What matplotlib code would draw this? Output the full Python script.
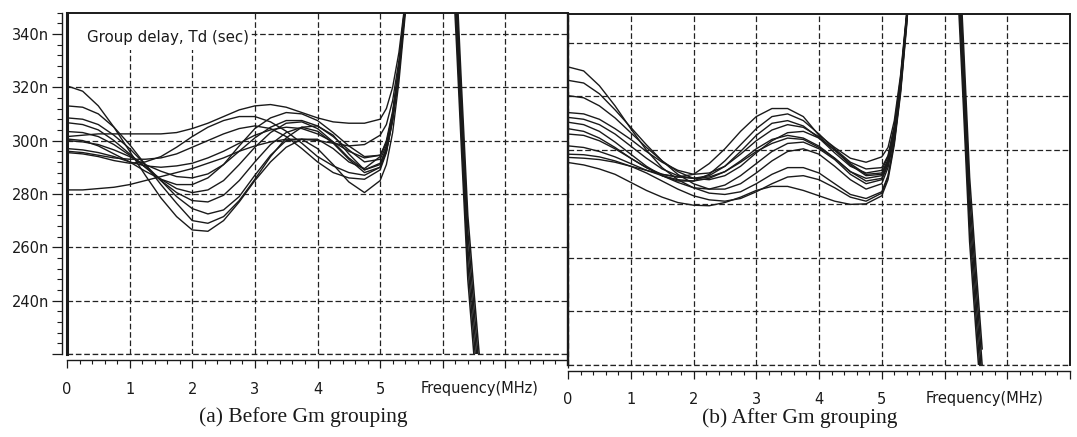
import matplotlib
matplotlib.use("Agg")
import matplotlib.pyplot as plt
from matplotlib.ticker import MultipleLocator, FixedLocator, FixedFormatter
from matplotlib.patches import Rectangle

plt.rcParams['font.family'] = ['DejaVu Sans']

# ---------------- data (group delay in ns vs frequency in MHz) ----------------
freq = [0.0, 0.25, 0.5, 0.75, 1.0, 1.25, 1.5, 1.75, 2.0, 2.25, 2.5, 2.75, 3.0,
        3.25, 3.5, 3.75, 4.0, 4.25, 4.5, 4.75, 5.0, 5.1, 5.2, 5.3, 5.4, 5.5]

# (a) Before Gm grouping
before_1 = [320.5, 318.5, 313, 305, 296, 287, 278.5, 271.5, 266.5, 266, 270, 277, 285, 292, 297.5, 300.5, 300.5, 297, 292, 289.5, 294, 300, 311, 328, 352, 385]
before_2 = [313, 312.5, 310, 305, 298.5, 291, 283.5, 276.5, 270, 269, 271.5, 277.5, 285.5, 294, 301, 305, 305.5, 302, 295, 289, 291, 297, 309, 326, 350, 383]
before_3 = [308.5, 308, 306, 302, 297, 291, 285, 279, 274.5, 272.5, 274, 279, 287, 294.5, 300, 300.5, 297, 291, 284.5, 280.5, 285, 291, 303, 322, 347, 380]
before_4 = [306.7, 306, 304, 300, 295, 290, 285, 280.5, 277.5, 277, 279.5, 285, 292, 298.5, 303, 305, 303.5, 299, 293, 288, 290, 296, 308, 325, 349, 382]
before_5 = [303.4, 303, 301.5, 298.5, 294.5, 290, 285.5, 282, 280.5, 281.5, 285, 291, 297.5, 303, 306.5, 307, 304.5, 299.5, 293.5, 289, 291.5, 297, 309, 326, 350, 383]
before_6 = [301.5, 302, 302.5, 302.5, 302.5, 302.5, 302.5, 303, 304.5, 306.5, 309, 311.5, 313, 313.5, 312.5, 310.5, 308.5, 307, 306.5, 306.5, 308, 312, 320, 333, 352, 385]
before_7 = [300.6, 300, 298, 295, 292, 288.5, 285.5, 283.5, 283.5, 286, 291, 298, 304.5, 308.5, 310.5, 310, 307.5, 303, 298, 294, 294.5, 299, 310, 327, 350, 383]
before_8 = [300, 299.5, 298.5, 296.5, 294, 291, 288.5, 286.5, 286, 287.5, 291, 296, 301, 305, 307.5, 307.5, 305.5, 301.5, 296.5, 292, 293, 298, 309, 326, 350, 383]
before_9 = [297, 296.5, 295.5, 294, 292, 290.5, 290, 290.5, 291.5, 293.5, 296, 299, 302, 304, 305, 304.5, 302.5, 299.5, 296, 293.5, 294.5, 299, 310, 327, 351, 384]
before_10 = [296, 295.5, 294.5, 293.5, 293, 293, 293.5, 295, 297.5, 300, 302.5, 304.5, 305.5, 304.5, 301.5, 297, 292, 288, 286, 285.5, 289, 295.5, 307.5, 325, 350, 383]
before_11 = [295.5, 295, 294, 292.5, 291.5, 292, 294, 297.5, 301.5, 305, 307.5, 309, 309, 307, 303.5, 299, 294, 290.5, 288, 287, 290, 296, 308, 325.5, 350, 383]
before_12 = [281.5, 281.5, 282, 282.5, 283.5, 285, 286.5, 288, 289.5, 291.5, 293.5, 296, 298, 299.5, 300.5, 300.5, 300, 299, 298, 298.5, 302, 306, 315, 330, 351, 384]

# (b) After Gm grouping
after_1 = [331, 329.5, 324, 316.5, 308, 300, 293.5, 289, 286, 284, 283.5, 284.5, 287.5, 291, 293.5, 293.5, 291.5, 287.5, 283.5, 282, 284.5, 290.5, 303.5, 322.5, 348.5, 384]
after_2 = [326, 325, 321, 315, 308.5, 302, 296, 291, 287.5, 285.5, 285.5, 287.5, 291.5, 296, 299.5, 300.5, 298.5, 294, 289, 285.5, 287.5, 293.5, 305, 324, 350, 385]
after_3 = [320.3, 319.5, 316.5, 312, 306.5, 301, 296, 292, 289.5, 289, 290.5, 294, 299, 303.5, 306.5, 307, 304.5, 300, 294.5, 290.5, 291, 296, 307, 325, 350, 385]
after_4 = [314, 313.5, 311.5, 308, 304, 299.5, 295.5, 292.5, 291, 291.5, 294, 298.5, 303.5, 307.5, 309.5, 308.5, 305, 300, 295, 291, 291.5, 296.5, 307.5, 325.5, 350, 385]
after_5 = [312.2, 311.5, 309.5, 306, 301.5, 297, 293, 290.5, 289.5, 290.5, 294, 299.5, 305.5, 310, 311, 309, 304.5, 299, 294, 291.5, 292.5, 297.5, 308.5, 326, 351, 385]
after_6 = [310.4, 309.5, 307, 303, 298.5, 294, 290.5, 288.5, 288.5, 291, 296, 302, 308, 312.5, 313.5, 311, 306, 300.5, 295.5, 293, 293.5, 298, 309, 327, 351, 385]
after_7 = [308, 307, 304.5, 301, 297, 293.5, 291, 290, 291, 295, 300.5, 307, 312.5, 315.5, 315.5, 312.5, 305.5, 301, 297, 295.5, 297.5, 301, 311, 328, 352, 386]
after_8 = [306, 305.5, 303.5, 300.5, 297, 293.5, 290.5, 288, 286, 285.5, 287, 290.5, 295, 299.5, 302.5, 303, 300.5, 296.5, 291, 287.5, 289, 294.5, 305.5, 324, 350, 385]
after_9 = [301.6, 301, 299.5, 297.5, 295, 292.5, 290.5, 289, 288.5, 289.5, 292, 296, 300.5, 304, 305.5, 304.5, 301.5, 297, 292, 288.5, 289.5, 295, 306, 324.5, 350, 385]
after_10 = [298.5, 298.3, 297.5, 296, 294, 291.5, 288.5, 285.5, 283, 281.5, 281, 282, 284.5, 287.5, 290, 290.5, 289, 286, 282.5, 281, 284, 290, 303, 322, 348, 383]
after_11 = [297.3, 297, 296.5, 295.5, 294, 292.5, 291, 290, 289.5, 290, 292, 295.5, 299.5, 302.5, 304.5, 304, 301, 297, 292, 289.5, 290.5, 295.5, 306.5, 325, 350, 385]
after_12 = [295.4, 294.5, 293, 291, 288, 285, 282.5, 280.5, 279.5, 279.3, 280.5, 282.5, 285, 286.5, 286.5, 285, 283, 281, 279.8, 280, 283, 289, 302, 321, 347, 382]

# falling branch after the out-of-range peak
freq_fall = [6.12, 6.22, 6.30, 6.40, 6.50, 6.60]
fall_before_1 = [383, 336, 296, 248, 219, 191]
fall_before_2 = [389, 342, 302, 254, 225, 197]
fall_before_3 = [395, 348, 308, 260, 231, 203]
fall_before_4 = [401, 354, 314, 266, 237, 209]
fall_before_5 = [407, 360, 320, 272, 243, 215]
fall_after_1 = [398, 356, 317, 266, 233, 202]
fall_after_2 = [404, 362, 323, 272, 239, 208]
fall_after_3 = [410, 368, 329, 278, 245, 214]
fall_after_4 = [416, 374, 335, 284, 251, 220]
fall_after_5 = [422, 380, 341, 290, 257, 226]

x_ticks = [0, 1, 2, 3, 4, 5, 6, 7, 8]
x_tick_labels = ['0', '1', '2', '3', '4', '5', '', '', '']
y_ticks = [220, 240, 260, 280, 300, 320, 340]
y_tick_labels = ['', '240n', '260n', '280n', '300n', '320n', '340n']

curves_before = [before_1, before_2, before_3, before_4, before_5, before_6,
                 before_7, before_8, before_9, before_10, before_11, before_12]
curves_after = [after_1, after_2, after_3, after_4, after_5, after_6,
                after_7, after_8, after_9, after_10, after_11, after_12]
falls_before = [fall_before_1, fall_before_2, fall_before_3, fall_before_4, fall_before_5]
falls_after = [fall_after_1, fall_after_2, fall_after_3, fall_after_4, fall_after_5]

# ---------------- figure ----------------
W, H = 1077, 437
fig = plt.figure(figsize=(W / 100, H / 100), dpi=100)
fig.patch.set_facecolor('white')

ax_a = fig.add_axes([67 / W, 1 - 354 / H, 501 / W, (354 - 12.5) / H])
ax_b = fig.add_axes([568 / W, 1 - 365 / H, 502 / W, (365 - 14) / H])

INK = '#1a1a1a'
GRID_LS = (0, (4.5, 2.2))


def style(ax, ytop):
    ax.set_xlim(0, 8)
    ax.set_ylim(220, ytop)
    ax.xaxis.set_major_locator(FixedLocator(x_ticks))
    ax.xaxis.set_major_formatter(FixedFormatter(x_tick_labels))
    ax.xaxis.set_minor_locator(MultipleLocator(0.2))
    ax.yaxis.set_major_locator(FixedLocator(y_ticks))
    ax.yaxis.set_major_formatter(FixedFormatter(y_tick_labels))
    ax.yaxis.set_minor_locator(MultipleLocator(4))
    ax.set_axisbelow(True)
    ax.grid(True, which='major', color='#222222', lw=0.9, ls=GRID_LS)
    ax.axhline(220, color='#222222', lw=0.9, ls=GRID_LS, clip_on=False, zorder=0.6)
    ax.tick_params(axis='x', which='major', length=5.8, width=0.9, direction='out',
                   labelsize=10.5, pad=9.5, colors=INK)
    ax.tick_params(axis='x', which='minor', length=3.2, width=0.8, direction='out', colors=INK)
    ax.tick_params(axis='y', which='major', length=7.2, width=0.9, direction='out',
                   labelsize=10.5, pad=2, colors=INK)
    ax.tick_params(axis='y', which='minor', length=3.6, width=0.8, direction='out', colors=INK)
    ax.spines['bottom'].set_position(('outward', 4.5))
    ax.spines['bottom'].set_linewidth(1.0)
    ax.spines['top'].set_linewidth(1.4)
    for s in ax.spines.values():
        s.set_color(INK)


style(ax_a, 348)
style(ax_b, 350.7)

# left panel frame
ax_a.spines['right'].set_visible(False)
ax_a.spines['left'].set_position(('outward', 3.8))
ax_a.spines['left'].set_linewidth(1.0)
ax_a.axvline(0, color=INK, lw=2.2, clip_on=False, zorder=3)

# right panel frame
ax_b.spines['left'].set_linewidth(1.7)
ax_b.spines['right'].set_linewidth(1.4)
ax_b.tick_params(axis='y', which='both', left=False, labelleft=False)

# curves
for c in curves_before:
    ax_a.plot(freq, c, color=INK, lw=1.0, zorder=2)
for c in falls_before:
    ax_a.plot(freq_fall, c, color=INK, lw=1.1, zorder=2)
for c in curves_after:
    ax_b.plot(freq, c, color=INK, lw=1.0, zorder=2)
for c in falls_after:
    ax_b.plot(freq_fall, c, color=INK, lw=1.1, zorder=2)

# in-plot label with white backing
ax_a.add_patch(Rectangle((0.0, 0.89), 0.368, 0.11, transform=ax_a.transAxes,
                         facecolor='white', edgecolor='none', zorder=1))
ax_a.text(0.04, 0.927, 'Group delay, Td (sec)', transform=ax_a.transAxes,
          fontsize=10.8, va='center', ha='left', color=INK, zorder=4)

# axis titles and captions
fig.text(480 / W, 1 - 389 / H, 'Frequency(MHz)', ha='center', va='center',
         fontsize=10.5, color=INK)
fig.text(985 / W, 1 - 398 / H, 'Frequency(MHz)', ha='center', va='center',
         fontsize=10.5, color=INK)
fig.text(303 / W, 1 - 417 / H, '(a) Before Gm grouping', ha='center', va='center',
         fontsize=15.5, family='Liberation Serif', color=INK)
fig.text(800 / W, 1 - 418 / H, '(b) After Gm grouping', ha='center', va='center',
         fontsize=15.5, family='Liberation Serif', color=INK)

fig.savefig('out.png', dpi=100, facecolor='white')
